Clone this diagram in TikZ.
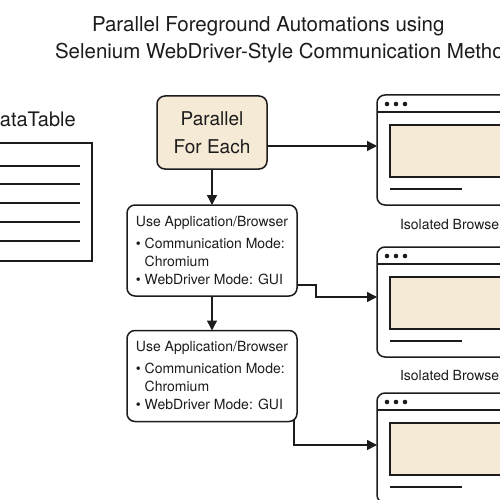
\documentclass[tikz,border=0pt]{standalone}
\usepackage{fontspec}
\setmainfont{TeX Gyre Heros}
\usetikzlibrary{positioning,arrows.meta}
\definecolor{paper}{RGB}{244,234,213}
\definecolor{ink}{RGB}{28,28,28}

\begin{document}
\begin{tikzpicture}[x=1pt, y=-1pt,
		every node/.style={text=ink, inner sep=0pt, outer sep=0pt},
		inkline/.style={draw=ink, line width=1.5pt},
		arrow/.style={draw=ink, line width=1.4pt, -{Triangle[length=10pt,width=10pt]}},
		headline/.style={anchor=base west, font=\fontsize{20.5}{24}\selectfont},
		loopbox/.style={inkline, fill=paper, rounded corners=8pt, minimum width=110pt, minimum height=73pt, align=center, font=\fontsize{19}{28}\selectfont},
		appbox/.style={inkline, rounded corners=8pt, minimum width=170pt, minimum height=91pt, align=left, font=\fontsize{14}{18}\selectfont},
		browser/.style={inkline, rounded corners=8pt, anchor=north west, minimum width=153pt, minimum height=110pt},
		winlabel/.style={anchor=base west, font=\fontsize{14}{17}\selectfont},
		]
		\useasboundingbox (0,0) rectangle (500,500);
		\fill[white] (0,0) rectangle (500,500);
		
		% title
		\node[headline] (title1) at (92,31.7) {Parallel Foreground Automations using};
		\node[headline] (title2) at (55,59) {Selenium WebDriver-Style Communication Method};
		
		% data table
		\node[anchor=base west, font=\fontsize{20}{24}\selectfont] (dtlabel) at (-14.5,126) {DataTable};
		\node[inkline, minimum width=102pt, minimum height=118pt] (table) at (41,202) {};
		\foreach \dy in {23,41,60,79,98}
			\draw[inkline] ([yshift=-\dy pt]table.north west) -- ([xshift=-12pt,yshift=-\dy pt]table.north east);
		
		% loop and activities
		\node[loopbox] (par) at (212,132.5) {Parallel\\For Each};
		\node[appbox] (app1) at (212,250.5) {Use Application/Browser\\[4pt]
			\textbullet\ Communication Mode:\\ \phantom{\textbullet\ }Chromium\\
			\textbullet\ WebDriver Mode: GUI};
		\node[appbox] (app2) at (212,376) {Use Application/Browser\\[4pt]
			\textbullet\ Communication Mode:\\ \phantom{\textbullet\ }Chromium\\
			\textbullet\ WebDriver Mode: GUI};
		
		% browser windows
		\foreach \nm/\tp in {browA/95,browB/247,browC/393} {
			\node[browser] (\nm) at (377,\tp) {};
			\draw[inkline] ([yshift=-17pt]\nm.north west) -- ([yshift=-17pt]\nm.north east);
			\foreach \dx in {10,19,28}
				\fill[ink] ([xshift=\dx pt,yshift=-9pt]\nm.north west) circle (2.3pt);
			\draw[inkline, fill=paper] ([xshift=13pt,yshift=-30pt]\nm.north west) rectangle ++(160,52);
			\draw[inkline] ([xshift=13pt,yshift=-94pt]\nm.north west) -- ++(72,0);
		}
		\node[winlabel] (isoA) at (400,229) {Isolated Browser};
		\node[winlabel] (isoB) at (400,380.5) {Isolated Browser};
		
		% connectors
		\draw[arrow] (par) -- (app1);
		\draw[arrow] (app1) -- (app2);
		\coordinate (parout) at ([yshift=-13.5pt]par.east);
		\draw[arrow] (parout) -- (parout -| browA.west);
		\coordinate (app1out) at ([yshift=-34.5pt]app1.east);
		\draw[arrow] (app1out) -- ++(19,0) |- ([yshift=5pt]browB.west);
		\draw[arrow] ([xshift=-3pt,yshift=3pt]app2.south east) |- ([yshift=3pt]browC.west);
	\end{tikzpicture}
\end{document}
